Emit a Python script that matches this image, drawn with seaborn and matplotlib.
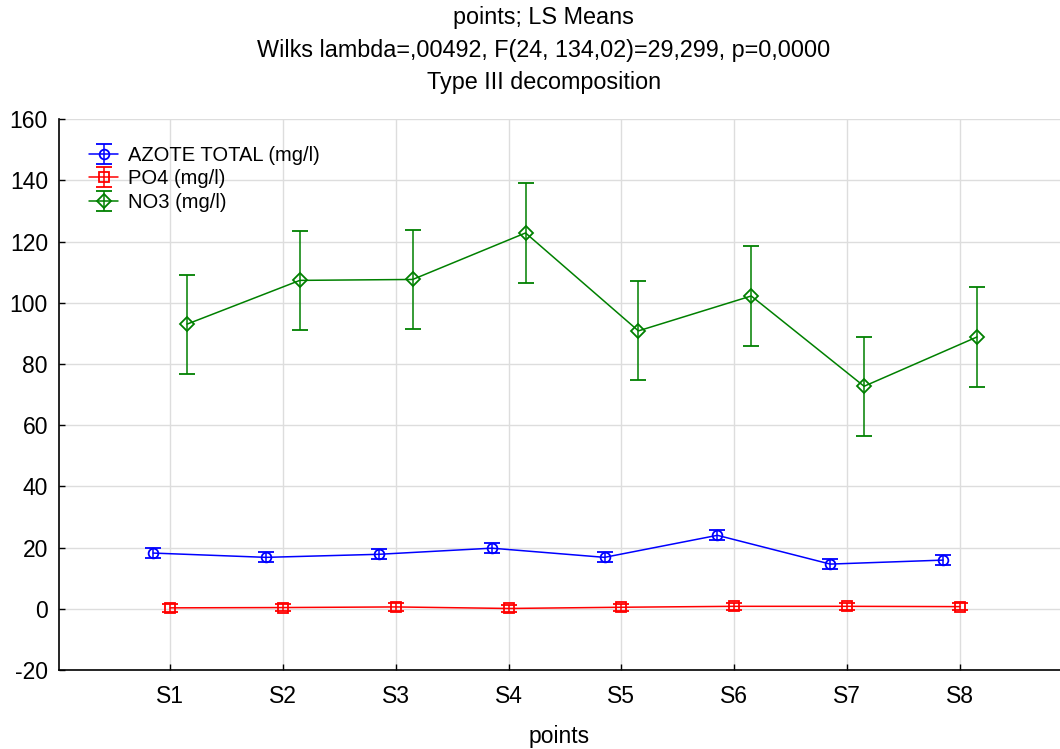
import numpy as np
import pandas as pd
import matplotlib
matplotlib.use("Agg")
import matplotlib.pyplot as plt
from matplotlib.lines import Line2D
import seaborn as sns

# Data
points = ["S1", "S2", "S3", "S4", "S5", "S6", "S7", "S8"]
azote_total = [18.2, 16.8, 17.8, 19.8, 16.8, 24.0, 14.6, 15.9]
azote_err = [1.6, 1.6, 1.6, 1.6, 1.6, 1.6, 1.6, 1.6]
po4 = [0.3, 0.4, 0.6, 0.1, 0.5, 0.8, 0.8, 0.7]
po4_err = [1.2, 1.2, 1.2, 1.2, 1.2, 1.2, 1.2, 1.2]
no3 = [93.0, 107.3, 107.6, 122.8, 90.8, 102.2, 72.7, 88.8]
no3_err = [16.2, 16.2, 16.2, 16.2, 16.2, 16.2, 16.2, 16.2]

series_names = ["AZOTE TOTAL (mg/l)", "PO4 (mg/l)", "NO3 (mg/l)"]
series_colors = ["#0000ff", "#ff0000", "#008000"]
series_markers = ["o", "s", "D"]
series_offsets = [-0.15, 0.0, 0.15]

sns.set_style("whitegrid")
plt.rcParams["font.family"] = ["Liberation Sans", "DejaVu Sans"]
plt.rcParams["axes.unicode_minus"] = False
plt.rcParams["text.color"] = "black"
plt.rcParams["axes.labelcolor"] = "black"

rows = []
for name, vals, errs, off in zip(series_names, [azote_total, po4, no3],
                                 [azote_err, po4_err, no3_err], series_offsets):
    for i, (v, e) in enumerate(zip(vals, errs)):
        rows.append({"series": name, "x": i + 1 + off, "value": v, "err": e})
df = pd.DataFrame(rows)

fig = plt.figure(figsize=(10.6, 7.49), dpi=100)
ax = fig.add_axes([0.0557, 0.1055, 0.9443, 0.7355])

sns.lineplot(data=df, x="x", y="value", hue="series", hue_order=series_names,
             palette=series_colors, linewidth=1.1, legend=False, ax=ax, sort=False)

handles = []
for name, color, marker in zip(series_names, series_colors, series_markers):
    sub = df[df["series"] == name]
    h = ax.errorbar(sub["x"], sub["value"], yerr=sub["err"], fmt=marker,
                    color=color, markerfacecolor="none", markeredgecolor=color,
                    markersize=7, markeredgewidth=1.3, ecolor=color,
                    elinewidth=1.1, capsize=6, capthick=1.1, label=name, zorder=3)
    handles.append((Line2D([], [], color=color, linewidth=1.1), h))

ax.set_xlim(0.016, 8.886)
ax.set_ylim(-20, 160)
ax.set_xticks(range(1, len(points) + 1))
ax.set_xticklabels(points)
ax.set_yticks(np.arange(-20, 161, 20))
ax.grid(True, color="#dddddd", linewidth=1)
ax.tick_params(direction="in", length=4, width=1, labelsize=16.5, colors="black",
               left=True, bottom=True)
ax.tick_params(axis="x", pad=11)
ax.tick_params(axis="y", pad=8)
for side in ["top", "right"]:
    ax.spines[side].set_visible(False)
for side in ["left", "bottom"]:
    ax.spines[side].set_color("black")
    ax.spines[side].set_linewidth(1.2)

ax.set_xlabel("points", fontsize=16.5, labelpad=12)
ax.set_ylabel("")

title_lines = ["points; LS Means",
               "Wilks lambda=,00492, F(24, 134,02)=29,299, p=0,0000",
               "Type III decomposition"]
for y, line in zip([0.976, 0.933, 0.890], title_lines):
    fig.text(0.513, y, line, ha="center", va="center", fontsize=16.8)

ax.legend(handles=handles, labels=series_names, loc="upper left",
          bbox_to_anchor=(0.016, 0.977), frameon=False, fontsize=14.5,
          handlelength=1.45, handletextpad=0.5, labelspacing=0.22, borderaxespad=0.3)

fig.savefig("out.png", dpi=100)
